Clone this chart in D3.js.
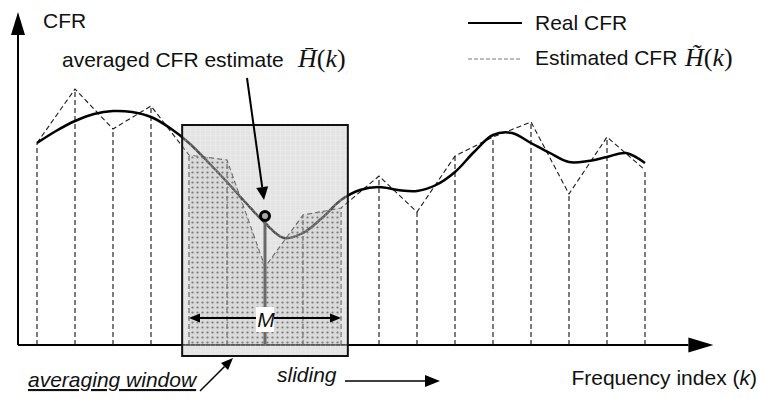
<!DOCTYPE html>
<html>
<head>
<meta charset="utf-8">
<script src="https://cdn.jsdelivr.net/npm/d3@7"></script>
<style>
  body { margin: 0; background: #fff; }
  text { font-family: "Liberation Sans", Arial, sans-serif; fill: #111; }
  .math { font-family: "Liberation Serif", "Times New Roman", serif; font-style: italic; }
</style>
</head>
<body>
<div id="container"></div>
<script>
/* CONSTANTS AND GLOBALS */
const width = 758,
  height = 399;

// subcarrier indices where the estimate is sampled
const estK = [0, 1, 2, 3, 4, 5, 6, 7, 8, 9, 10, 11, 12, 13, 14, 15, 16];
// noisy estimated CFR
const estCFR = [2.02, 2.56, 2.16, 2.39, 1.90, 1.85, 0.78, 1.30, 1.37, 1.69, 1.33, 1.89, 2.08, 2.23, 1.51, 2.08, 1.75];

// real CFR, read at half steps so the curve keeps its shape
const realK = [0, 0.5, 1, 1.5, 2, 2.5, 3, 3.5, 4, 4.5, 5, 5.5, 6, 6.5, 7, 7.5, 8, 8.5, 9, 9.5, 10, 10.5, 11, 11.5, 12, 12.5, 13, 13.5, 14, 14.5, 15, 15.5, 16];
const realCFR = [2.02, 2.14, 2.24, 2.31, 2.34, 2.33, 2.28, 2.17, 2.02, 1.83, 1.63, 1.42, 1.22, 1.07, 1.12, 1.27, 1.45, 1.55, 1.58, 1.55, 1.54, 1.60, 1.73, 1.93, 2.10, 2.12, 2.02, 1.92, 1.83, 1.84, 1.88, 1.92, 1.82];

// averaging window: centre k and half width (M = 2*half+1)
const windowCenter = 6;
const windowHalf = 2;
const averagedCFR = 1.29;

const legendLabels = ["Real CFR", "Estimated CFR"];
const yLabel = "CFR";
const xLabel = "Frequency index (";

const realData = realK.map((k, i) => ({ k: k, v: realCFR[i] }));
const estData = estK.map((k, i) => ({ k: k, v: estCFR[i] }));

const xScale = d3.scaleLinear()
  .domain([0, 16])
  .range([37, 645]);

const yScale = d3.scaleLinear()
  .domain([0, 3])
  .range([345, 45]);

const svg = d3.select("#container")
  .append("svg")
  .attr("width", width)
  .attr("height", height);

// patterns for the window
const defs = svg.append("defs");
const grid = defs.append("pattern")
  .attr("id", "grid")
  .attr("width", 5).attr("height", 5)
  .attr("patternUnits", "userSpaceOnUse");
grid.append("rect").attr("width", 5).attr("height", 5).attr("fill", "rgba(190,190,190,0.42)");
grid.append("path").attr("d", "M0,0.25H5M0.25,0V5").attr("stroke", "rgba(255,255,255,0.4)").attr("stroke-width", 0.5);

const dots = defs.append("pattern")
  .attr("id", "dots")
  .attr("width", 5).attr("height", 5)
  .attr("patternUnits", "userSpaceOnUse");
dots.append("rect").attr("width", 5).attr("height", 5).attr("fill", "rgba(150,150,150,0.15)");
dots.append("circle").attr("cx", 2.5).attr("cy", 2.5).attr("r", 1.1).attr("fill", "#7a7a7a");

function arrow(g, x1, y1, x2, y2, sw, len, wid) {
  const a = Math.atan2(y2 - y1, x2 - x1);
  const bx = x2 - len * Math.cos(a), by = y2 - len * Math.sin(a);
  g.append("line")
    .attr("x1", x1).attr("y1", y1)
    .attr("x2", bx).attr("y2", by)
    .attr("stroke", "#000").attr("stroke-width", sw);
  const px = Math.sin(a) * wid / 2, py = -Math.cos(a) * wid / 2;
  g.append("path")
    .attr("d", `M${x2},${y2}L${bx + px},${by + py}L${bx - px},${by - py}Z`)
    .attr("fill", "#000");
}

/* AXES */
const x0 = xScale(-0.5), y0 = yScale(0);
arrow(svg, x0, y0, xScale(17.8), y0, 2, 25, 15);
arrow(svg, x0, y0, x0, yScale(3.33), 2, 23, 14);

svg.append("text")
  .attr("x", 43).attr("y", 28)
  .attr("font-size", 21)
  .text(yLabel);

const xl = svg.append("text")
  .attr("x", 757).attr("y", 385)
  .attr("text-anchor", "end")
  .attr("font-size", 21)
  .text(xLabel);
xl.append("tspan").attr("font-style", "italic").text("k");
xl.append("tspan").text(")");

/* ESTIMATED CFR: stems and polyline */
svg.selectAll(".stem")
  .data(estData)
  .join("line")
  .attr("class", "stem")
  .attr("x1", d => xScale(d.k)).attr("x2", d => xScale(d.k))
  .attr("y1", y0).attr("y2", d => yScale(d.v))
  .attr("stroke", "#111")
  .attr("stroke-width", 1.1)
  .attr("stroke-dasharray", "5,3");

const estLine = d3.line()
  .x(d => xScale(d.k))
  .y(d => yScale(d.v));

svg.append("path")
  .datum(estData)
  .attr("d", estLine)
  .attr("fill", "none")
  .attr("stroke", "#1a1a1a")
  .attr("stroke-width", 1.1)
  .attr("stroke-dasharray", "5,3");

/* REAL CFR */
const realLine = d3.line()
  .x(d => xScale(d.k))
  .y(d => yScale(d.v))
  .curve(d3.curveCatmullRom.alpha(0.5));

svg.append("path")
  .datum(realData)
  .attr("d", realLine)
  .attr("fill", "none")
  .attr("stroke", "#000")
  .attr("stroke-width", 2.5);

/* AVERAGING WINDOW */
const wx0 = xScale(windowCenter - windowHalf - 0.18),
  wx1 = xScale(windowCenter + windowHalf + 0.18);
svg.append("rect")
  .attr("x", wx0).attr("y", yScale(2.2))
  .attr("width", wx1 - wx0)
  .attr("height", yScale(-0.11) - yScale(2.2))
  .attr("fill", "url(#grid)")
  .attr("stroke", "#111")
  .attr("stroke-width", 2);

const inWindow = estData.filter(d => Math.abs(d.k - windowCenter) <= windowHalf);
const area = d3.area()
  .x(d => xScale(d.k))
  .y0(y0)
  .y1(d => yScale(d.v));

svg.append("path")
  .datum(inWindow)
  .attr("d", area)
  .attr("fill", "url(#dots)");

// averaged value at the centre
svg.append("line")
  .attr("x1", xScale(windowCenter)).attr("x2", xScale(windowCenter))
  .attr("y1", y0).attr("y2", yScale(averagedCFR))
  .attr("stroke", "#6a6a6a")
  .attr("stroke-width", 3);

svg.append("circle")
  .attr("cx", xScale(windowCenter)).attr("cy", yScale(averagedCFR))
  .attr("r", 4.5)
  .attr("fill", "#aaa")
  .attr("stroke", "#000")
  .attr("stroke-width", 3);

// M span
const my = 318;
const mx0 = xScale(windowCenter - windowHalf), mx1 = xScale(windowCenter + windowHalf);
arrow(svg, xScale(windowCenter), my, mx0, my, 2, 11, 9);
arrow(svg, xScale(windowCenter), my, mx1, my, 2, 11, 9);
svg.append("rect")
  .attr("x", xScale(windowCenter) - 9).attr("y", 307)
  .attr("width", 18).attr("height", 25)
  .attr("fill", "#fff");
svg.append("text")
  .attr("x", xScale(windowCenter) + 1).attr("y", 327)
  .attr("text-anchor", "middle")
  .attr("font-size", 21)
  .attr("font-style", "italic")
  .text("M");

/* ANNOTATIONS */
svg.append("text")
  .attr("x", 62).attr("y", 67)
  .attr("font-size", 21)
  .text("averaged CFR estimate");
svg.append("text")
  .attr("class", "math")
  .attr("x", 298).attr("y", 67)
  .attr("font-size", 26)
  .html('H\u0304<tspan font-style="normal">(</tspan>k<tspan font-style="normal">)</tspan>');
arrow(svg, 247, 78, xScale(windowCenter) - 1, yScale(averagedCFR) - 16, 2, 13, 12);

svg.append("text")
  .attr("x", 28).attr("y", 387)
  .attr("font-size", 21)
  .attr("font-style", "italic")
  .attr("text-decoration", "underline")
  .text("averaging window");
arrow(svg, 200, 391, 233, 358, 1.5, 12, 10);

svg.append("text")
  .attr("x", 277).attr("y", 382)
  .attr("font-size", 21)
  .attr("font-style", "italic")
  .text("sliding");
arrow(svg, 345, 381, 440, 381, 1.5, 15, 12);

/* LEGEND */
svg.append("line")
  .attr("x1", 468).attr("x2", 522)
  .attr("y1", 23).attr("y2", 23)
  .attr("stroke", "#000").attr("stroke-width", 2);
svg.append("text")
  .attr("x", 535).attr("y", 30)
  .attr("font-size", 21)
  .text(legendLabels[0]);

svg.append("line")
  .attr("x1", 468).attr("x2", 522)
  .attr("y1", 59).attr("y2", 59)
  .attr("stroke", "#777").attr("stroke-width", 1)
  .attr("stroke-dasharray", "4,2");
svg.append("text")
  .attr("x", 535).attr("y", 65)
  .attr("font-size", 21)
  .text(legendLabels[1]);
svg.append("text")
  .attr("class", "math")
  .attr("x", 685).attr("y", 66)
  .attr("font-size", 26)
  .html('H\u0303<tspan font-style="normal">(</tspan>k<tspan font-style="normal">)</tspan>');
</script>
</body>
</html>
